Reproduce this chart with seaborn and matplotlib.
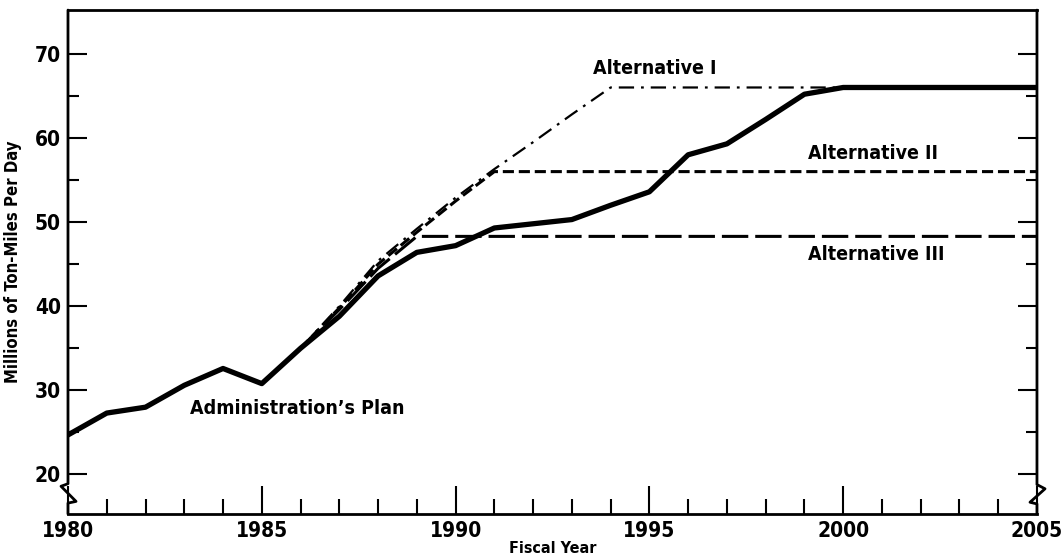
import matplotlib
matplotlib.use("Agg")
import matplotlib.pyplot as plt
import seaborn as sns

# fiscal years and the four series (millions of ton-miles per day)
years = list(range(1980, 2006))
admin_plan = [24.7, 27.3, 28.0, 30.6, 32.6, 30.8, 35.0, 38.8, 43.6, 46.4,
              47.2, 49.3, 49.8, 50.3, 52.0, 53.6, 58.0, 59.3, 62.2, 65.2,
              66.0, 66.0, 66.0, 66.0, 66.0, 66.0]

alt_years = list(range(1986, 2006))
alt_1 = [35.0, 40.0, 45.4, 49.2, 52.9, 56.3, 59.5, 62.8, 66.0, 66.0,
         66.0, 66.0, 66.0, 66.0, 66.0, 66.0, 66.0, 66.0, 66.0, 66.0]
alt_2 = [35.0, 39.8, 45.0, 48.8, 52.5, 56.0, 56.0, 56.0, 56.0, 56.0,
         56.0, 56.0, 56.0, 56.0, 56.0, 56.0, 56.0, 56.0, 56.0, 56.0]
alt_3 = [35.0, 39.6, 44.5, 48.3, 48.3, 48.3, 48.3, 48.3, 48.3, 48.3,
         48.3, 48.3, 48.3, 48.3, 48.3, 48.3, 48.3, 48.3, 48.3, 48.3]

x_ticks = [1980, 1985, 1990, 1995, 2000, 2005]
y_ticks = [20, 30, 40, 50, 60, 70]

sns.set_style("white")
plt.rcParams["font.family"] = ["DejaVu Sans"]
plt.rcParams["font.stretch"] = "condensed"
plt.rcParams["font.weight"] = "bold"
plt.rcParams["axes.labelweight"] = "bold"
plt.rcParams["text.color"] = "black"
plt.rcParams["axes.labelcolor"] = "black"
plt.rcParams["xtick.color"] = "black"
plt.rcParams["ytick.color"] = "black"
plt.rcParams["lines.scale_dashes"] = False

fig = plt.figure(figsize=(10.64, 5.6), dpi=100)
ax = fig.add_axes([0.0639, 0.0821, 0.9107, 0.8999])

sns.lineplot(x=alt_years, y=alt_1, ax=ax, color="black", lw=1.6,
             linestyle=(0, (11, 5, 2, 5)))
sns.lineplot(x=alt_years, y=alt_2, ax=ax, color="black", lw=2.2,
             linestyle=(0, (8, 3.5)))
sns.lineplot(x=alt_years, y=alt_3, ax=ax, color="black", lw=2.2,
             linestyle=(0, (19, 5)))
sns.lineplot(x=years, y=admin_plan, ax=ax, color="black", lw=3.8,
             solid_joinstyle="round")

ymin, ymax = 15.3, 75.2
ax.set_xlim(1980, 2005)
ax.set_ylim(ymin, ymax)

ax.set_xticks(x_ticks)
ax.set_xticks(years, minor=True)
ax.set_yticks(y_ticks)
ax.set_yticks([25, 35, 45, 55, 65], minor=True)
ax.set_xticklabels([str(v) for v in x_ticks], fontsize=15)
ax.set_yticklabels([str(v) for v in y_ticks], fontsize=15)
ax.tick_params(which="major", direction="in", length=14, width=1.5,
               left=True, right=True, bottom=True, pad=5)
ax.tick_params(which="minor", direction="in", length=8, width=1.5,
               left=True, right=True, bottom=True)
ax.tick_params(axis="x", which="major", length=20, pad=5)
ax.tick_params(axis="x", which="minor", length=11)

ax.set_xlabel("Fiscal Year", fontsize=11.5, labelpad=0)
ax.set_ylabel("Millions of Ton-Miles Per Day", fontsize=12, labelpad=9)

# frame with broken side axes
for side in ["top", "bottom"]:
    ax.spines[side].set_linewidth(2)
    ax.spines[side].set_color("black")
ax.spines["left"].set_visible(False)
ax.spines["right"].set_visible(False)
tr = ax.get_yaxis_transform()
ax.plot([0, 0, -0.0072, 0.0083, 0, 0], [ymax, 18.9, 18.6, 16.8, 16.6, ymin],
        transform=tr, color="black", lw=2, clip_on=False)
ax.plot([1, 1, 1.0083, 0.9928, 1, 1], [ymax, 18.8, 18.3, 16.7, 16.5, ymin],
        transform=tr, color="black", lw=2, clip_on=False)

# series labels
ax.text(1993.55, 68.2, "Alternative I", fontsize=14, va="center")
ax.text(1999.1, 58.2, "Alternative II", fontsize=14, va="center")
ax.text(1999.1, 46.1, "Alternative III", fontsize=14, va="center")
ax.text(1983.15, 27.8, "Administration\u2019s Plan", fontsize=14, va="center")

fig.savefig("out.png", dpi=100)
